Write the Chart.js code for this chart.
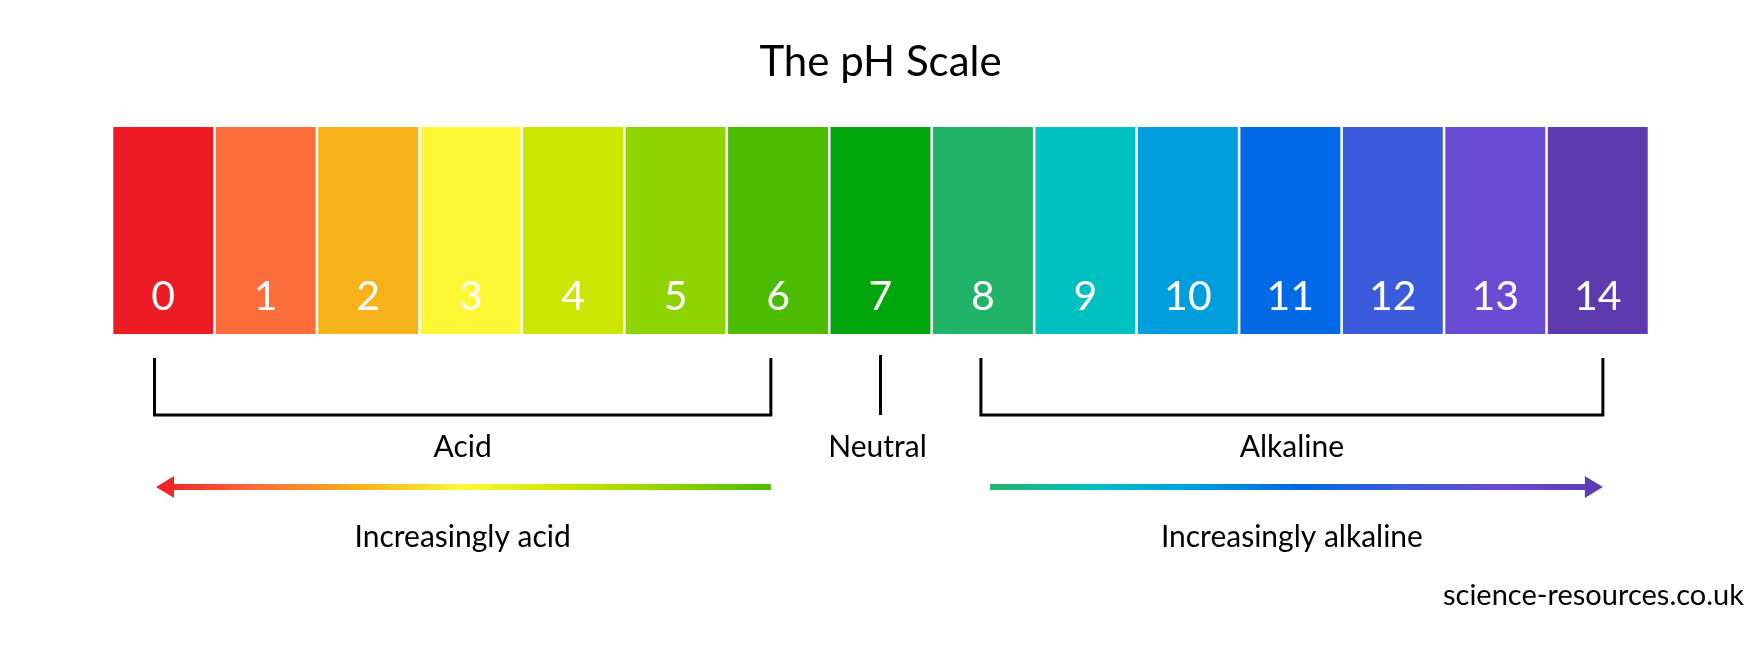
<!DOCTYPE html>
<html><head><meta charset="utf-8">
<script src="https://cdn.jsdelivr.net/npm/chart.js@4"></script>
<style>html,body{margin:0;padding:0;background:#fff}#c{display:block}</style>
</head><body>
<canvas id="c" width="1764" height="655"></canvas>
<script>
const categories = ['0','1','2','3','4','5','6','7','8','9','10','11','12','13','14'];
const values = [1,1,1,1,1,1,1,1,1,1,1,1,1,1,1];
const colors = ['#ED1C24','#FB6E3C','#F7B21A','#FFF735','#CBE600','#8ED400','#4CBC00','#00A60C','#22B36A','#00C1C1','#009EDD','#0069E5','#3A5CDC','#6A4BD4','#5D3AAE'];
const title = 'The pH Scale';
const groups = [
  {label:'Acid', sub:'Increasingly acid', from:-0.085, to:5.93, afrom:-0.07, ato:5.93, dir:-1},
  {label:'Neutral', at:7.0},
  {label:'Alkaline', sub:'Increasingly alkaline', from:7.98, to:14.05, afrom:8.07, ato:14.05, dir:1}
];
const credit = 'science-resources.co.uk';
const FONT = 'Lato, "Open Sans", sans-serif';

const overlay = {
  id:'overlay',
  afterDatasetsDraw(chart){
    const ctx = chart.ctx, a = chart.chartArea;
    const w = (a.right-a.left)/categories.length;
    const px = v => a.left + (v+0.5)*w;
    ctx.save();
    ctx.fillStyle='#000'; ctx.textAlign='center'; ctx.textBaseline='middle';
    ctx.font = '42px '+FONT;
    ctx.fillText(title, (a.left+a.right)/2, 62);
    ctx.fillStyle='#fff'; ctx.font='41px '+FONT;
    categories.forEach((c,i)=>ctx.fillText(c, px(i), 297));
    ctx.strokeStyle='#000'; ctx.lineWidth=3; ctx.fillStyle='#000';
    ctx.font='30px '+FONT;
    groups.forEach(g=>{
      if(g.at!==undefined){
        const x=px(g.at);
        ctx.beginPath(); ctx.moveTo(x,355); ctx.lineTo(x,415); ctx.stroke();
        ctx.fillStyle='#000'; ctx.fillText(g.label,x-3,447);
        return;
      }
      const x1=px(g.from), x2=px(g.to), cx=(x1+x2)/2;
      ctx.beginPath(); ctx.moveTo(x1,358); ctx.lineTo(x1,415); ctx.lineTo(x2,415); ctx.lineTo(x2,358); ctx.stroke();
      ctx.fillStyle='#000'; ctx.fillText(g.label,cx,447);
      ctx.fillText(g.sub,cx,537);
      const ax1=px(g.afrom), ax2=px(g.ato);
      const idx0=Math.max(0,Math.round(g.afrom)), idx1=Math.min(14,Math.round(g.ato));
      const grad=ctx.createLinearGradient(ax1,0,ax2,0);
      for(let i=idx0;i<=idx1;i++) grad.addColorStop((i-idx0)/(idx1-idx0), colors[i]);
      const y=487, ah=18, hw=11;
      ctx.fillStyle=grad;
      if(g.dir<0){
        ctx.fillRect(ax1+ah-2,y-3,ax2-ax1-ah+2,6);
        ctx.beginPath(); ctx.moveTo(ax1,y); ctx.lineTo(ax1+ah,y-hw); ctx.lineTo(ax1+ah,y+hw); ctx.closePath(); ctx.fill();
      } else {
        ctx.fillRect(ax1,y-3,ax2-ax1-ah+2,6);
        ctx.beginPath(); ctx.moveTo(ax2,y); ctx.lineTo(ax2-ah,y-hw); ctx.lineTo(ax2-ah,y+hw); ctx.closePath(); ctx.fill();
      }
    });
    ctx.fillStyle='#000'; ctx.textAlign='right'; ctx.font='29px '+FONT;
    ctx.fillText(credit, 1744, 596);
    ctx.restore();
  }
};

new Chart(document.getElementById('c'), {
  type:'bar',
  data:{labels:categories, datasets:[{data:values, backgroundColor:colors, borderWidth:0, categoryPercentage:1, barPercentage:0.975}]},
  options:{
    responsive:false, animation:false,
    layout:{padding:{left:112,right:115,top:127,bottom:321}},
    plugins:{legend:{display:false}, tooltip:{enabled:false}},
    scales:{x:{display:false}, y:{display:false, min:0, max:1}}
  },
  plugins:[overlay]
});
</script>
</body></html>
